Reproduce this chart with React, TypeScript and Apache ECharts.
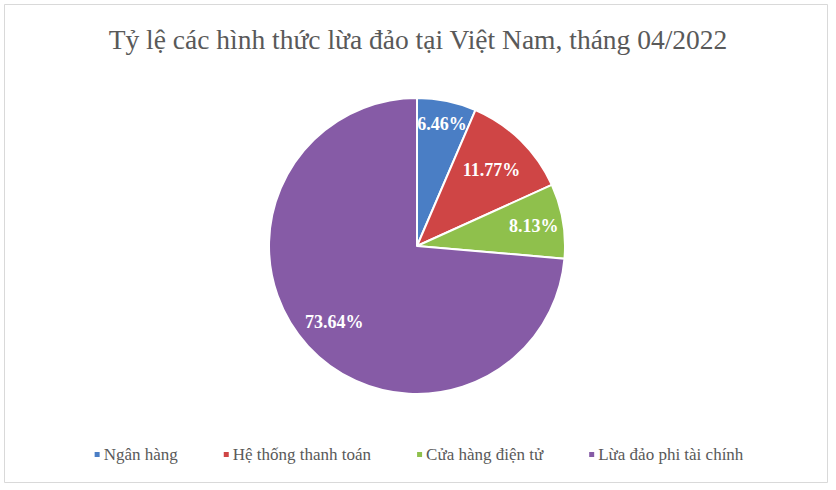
import { useEffect, useRef } from "react";
import * as echarts from "echarts";

const categories = ["Ngân hàng", "Hệ thống thanh toán", "Cửa hàng điện tử", "Lừa đảo phi tài chính"];
const shares = [6.46, 11.77, 8.13, 73.64];
const colors = ["#4a7ec5", "#cf4545", "#8fc04c", "#865ba6"];
// how far out (fraction of radius) each percentage label sits, Excel best-fit style
const labelRadius = [0.84, 0.72, 0.8, 0.76];

const CX = 417;
const CY = 246;
const R = 148;

export default function App() {
  const chartRef = useRef<HTMLDivElement | null>(null);

  useEffect(() => {
    if (!chartRef.current) return;
    const chart = echarts.init(chartRef.current, null, { renderer: "svg" });
    const total = shares.reduce((a, b) => a + b, 0);
    const midAngles: number[] = [];
    let acc = 0;
    shares.forEach((v) => {
      midAngles.push(((acc + v / 2) / total) * Math.PI * 2);
      acc += v;
    });

    chart.setOption({
      animation: false,
      backgroundColor: "#ffffff",
      title: {
        text: "Tỷ lệ các hình thức lừa đảo tại Việt Nam, tháng 04/2022",
        left: "center",
        top: 20,
        textStyle: {
          fontFamily: "Liberation Serif",
          fontSize: 27.5,
          fontWeight: "normal",
          color: "#595959",
        },
      },
      graphic: [
        {
          type: "rect",
          shape: { x: 4.5, y: 4.5, width: 823, height: 478 },
          style: { fill: "none", stroke: "#d9d9d9", lineWidth: 1 },
          silent: true,
        },
      ],
      legend: {
        bottom: 22,
        left: "center",
        icon: "rect",
        itemWidth: 7,
        itemHeight: 7,
        itemGap: 44,
        data: categories,
        textStyle: {
          fontFamily: "Liberation Serif",
          fontSize: 17,
          color: "#595959",
          padding: [0, 0, 0, -2],
        },
      },
      color: colors,
      series: [
        {
          type: "pie",
          center: [CX, CY],
          radius: [0, R],
          startAngle: 90,
          clockwise: true,
          itemStyle: { borderColor: "#ffffff", borderWidth: 2 },
          label: {
            show: true,
            position: "inside",
            formatter: (p: any) => `${p.value.toFixed(2)}%`,
            color: "#ffffff",
            fontFamily: "Liberation Serif",
            fontWeight: "bold",
            fontSize: 18,
          },
          labelLayout: (p: any) => {
            const a = midAngles[p.dataIndex];
            const r = R * labelRadius[p.dataIndex];
            return { x: CX + r * Math.sin(a), y: CY - r * Math.cos(a), align: "center", verticalAlign: "middle" };
          },
          labelLine: { show: false },
          emphasis: { disabled: true },
          data: categories.map((name, i) => ({ name, value: shares[i] })),
        },
      ],
    });

    return () => {
      chart.dispose();
    };
  }, []);

  return (
    <div
      ref={chartRef}
      style={{ position: "fixed", left: 0, top: 0, width: 836, height: 490 }}
    />
  );
}
